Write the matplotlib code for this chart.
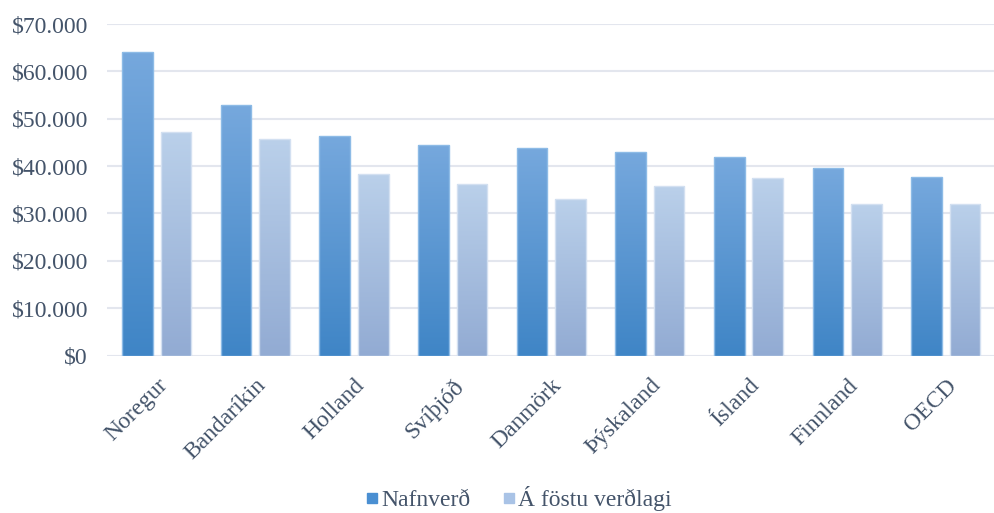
#!/usr/bin/env python3

"""
Grouped bar chart: Nafnverð vs. Á föstu verðlagi per country.
"""

import numpy as np
import matplotlib
matplotlib.use("Agg")
import matplotlib.pyplot as plt
from matplotlib.colors import LinearSegmentedColormap
from matplotlib.lines import Line2D
from matplotlib.ticker import FuncFormatter

countries = ["Noregur", "Bandaríkin", "Holland", "Svíþjóð", "Danmörk",
             "Þýskaland", "Ísland", "Finnland", "OECD"]
nafnverd = [64200, 53000, 46300, 44500, 43800, 43000, 41900, 39700, 37800]
fost_verdlag = [47300, 45700, 38400, 36300, 33100, 35700, 37500, 32100, 31900]
series_names = ["Nafnverð", "Á föstu verðlagi"]


def gradient_bars(ax, xs, heights, width, top, bottom, edge):
    cmap = LinearSegmentedColormap.from_list("g", [bottom, top])
    grad = np.linspace(0, 1, 256).reshape(-1, 1)
    bars = ax.bar(xs, heights, width, color="none", edgecolor=edge,
                  linewidth=1.0, zorder=3)
    for b in bars:
        x0, y0 = b.get_x(), b.get_y()
        w, h = b.get_width(), b.get_height()
        im = ax.imshow(grad, cmap=cmap, aspect="auto", origin="lower",
                       extent=(x0, x0 + w, y0, y0 + h), zorder=2,
                       interpolation="bilinear")
        im.set_clip_path(b)
    return bars


def main():
    serif = ["Liberation Serif", "DejaVu Serif"]
    plt.rcParams["font.family"] = serif
    text_color = "#44546a"
    fsize = 17

    fig = plt.figure(figsize=(9.95, 5.13), dpi=100)
    ax = fig.add_axes([0.108, 0.307, 0.892, 0.646])

    x = np.arange(len(countries))
    w = 0.31
    gap = 0.08
    gradient_bars(ax, x - (w + gap) / 2, nafnverd, w,
                  "#76a8dd", "#3f85c6", "#8dbbe6")
    gradient_bars(ax, x + (w + gap) / 2, fost_verdlag, w,
                  "#bad0ea", "#92abd3", "#d3e0f1")

    ax.set_xlim(-0.5, len(countries) - 0.5)
    ax.set_ylim(0, 70000)
    ax.set_yticks(np.arange(0, 70001, 10000))
    ax.yaxis.set_major_formatter(FuncFormatter(
        lambda v, p: "$0" if v == 0 else "${:,.0f}".format(v).replace(",", ".")))
    ax.grid(axis="y", color="#e3e6ee", linewidth=1.5, zorder=0)
    ax.set_axisbelow(True)
    for s in ax.spines.values():
        s.set_visible(False)
    ax.tick_params(axis="both", length=0, labelsize=fsize, colors=text_color)
    ax.tick_params(axis="y", pad=14)
    ax.tick_params(axis="x", pad=14)
    ax.set_xticks(x)
    ax.set_xticklabels(countries, rotation=45, ha="right",
                       rotation_mode="anchor")
    for lbl in ax.get_xticklabels():
        lbl.set_color(text_color)

    handles = [Line2D([], [], marker="s", linestyle="none", markersize=6.5,
                      markerfacecolor=c, markeredgecolor=c)
               for c in ["#4a8fd2", "#a9c3e6"]]
    leg = fig.legend(handles, series_names, loc="center", ncol=2,
                     frameon=False, fontsize=fsize,
                     handletextpad=0.1, handlelength=0.6, columnspacing=1.3,
                     bbox_to_anchor=(0.521, 0.028))
    for t in leg.get_texts():
        t.set_fontfamily("Liberation Serif")
        t.set_color(text_color)

    fig.savefig("out.png", dpi=100)


if __name__ == "__main__":
    main()
